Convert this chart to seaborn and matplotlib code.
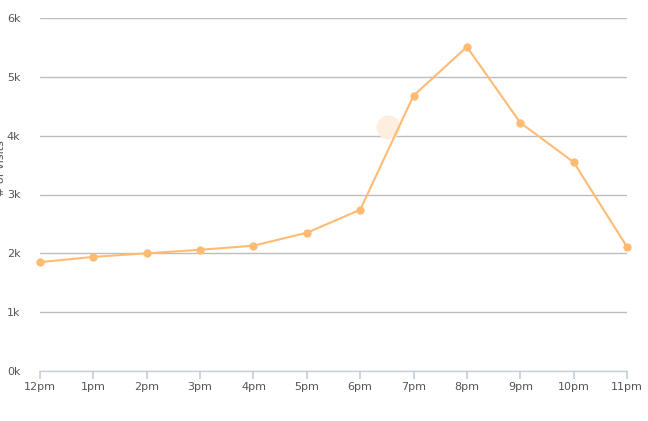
import matplotlib
matplotlib.use("Agg")
import matplotlib.pyplot as plt
import seaborn as sns
import pandas as pd

hours = ["12pm", "1pm", "2pm", "3pm", "4pm", "5pm", "6pm", "7pm", "8pm", "9pm", "10pm", "11pm"]
visits = [1850, 1940, 2000, 2060, 2130, 2350, 2740, 4680, 5510, 4220, 3550, 2110]
hover_x = [6.52]
hover_y = [4150]

sns.set_theme(style="white")
plt.rcParams['font.family'] = ['DejaVu Sans']

df = pd.DataFrame({"x": range(len(hours)), "visits": visits})
color = "#ffbb73"

fig = plt.figure(figsize=(6.48, 4.21), dpi=100)
ax = fig.add_axes([40 / 648, 50 / 421, 587 / 648, 353 / 421])

ax.scatter(hover_x, hover_y, s=300, color="#fdeedf", zorder=1, linewidths=0)
sns.lineplot(data=df, x="x", y="visits", ax=ax, color=color, linewidth=1.5,
             marker="o", markersize=6, markeredgewidth=0, zorder=3)

ax.set_xlim(0, len(hours) - 1)
ax.set_ylim(0, 6000)
ax.set_yticks(range(0, 6001, 1000))
ax.set_yticklabels([f"{v // 1000}k" for v in range(0, 6001, 1000)])
ax.set_xticks(range(len(hours)))
ax.set_xticklabels(hours)
ax.yaxis.grid(True, color="#bdbdbd", linewidth=1)
ax.set_axisbelow(True)
for s in ["top", "right", "left", "bottom"]:
    ax.spines[s].set_visible(False)
ax.axhline(0, color="#c5d0dc", linewidth=1, zorder=2)
ax.tick_params(axis="y", length=0, labelsize=8, labelcolor="#555555", pad=14)
ax.tick_params(axis="x", length=6, color="#c5d0dc", labelsize=8, labelcolor="#555555", pad=2,
               bottom=True)
ax.set_xlabel("")
ax.set_ylabel("")
for line in ax.lines:
    line.set_clip_on(False)

fig.text(0.001, 0.60, "# of visits", rotation=90, fontsize=8, color="#555555",
         ha="center", va="center")

fig.savefig("out.png", dpi=100)
